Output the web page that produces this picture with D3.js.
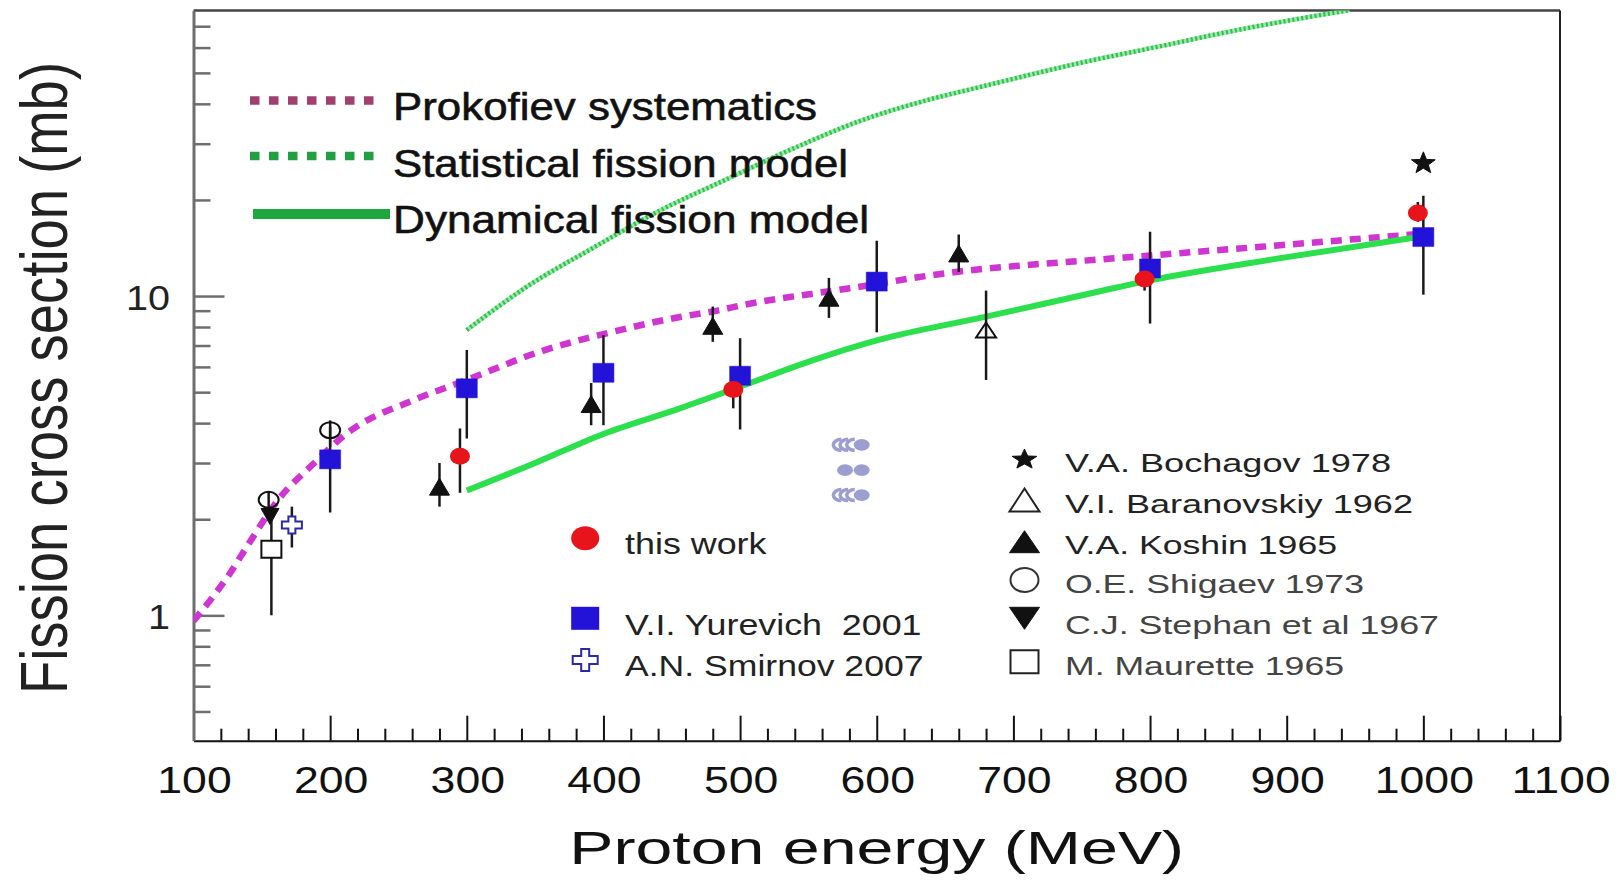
<!DOCTYPE html>
<html><head><meta charset="utf-8">
<script src="https://cdn.jsdelivr.net/npm/d3@7"></script>
<style>
html,body{margin:0;padding:0;background:#fff;}
svg{display:block;font-family:"Liberation Sans",Arial,Helvetica,sans-serif;}
</style>
</head><body>
<svg id="chart" width="1622" height="882"></svg>
<script>
// ---------------- DATA ----------------
const prokofievE = [100,114,127,139,163,188,212,261,300,356,400,456,480,505,565,600,627,665,700,761,800,893,1000];
const prokofievV = [0.96,1.14,1.36,1.64,2.33,2.99,3.71,4.72,5.46,6.75,7.6,8.6,8.95,9.43,10.35,10.9,11.4,12.0,12.4,13.0,13.4,14.4,15.7];

const statE = [300,344,393,441,490,539,588,637,676,748,806,864,946];
const statV = [7.83,10.7,14.2,18.5,23.2,29.0,35.4,41.1,45.2,53.6,60.4,68.1,78.6];

const dynE = [300,350,400,456,500,553,602,680,761,800,893,1000];
const dynV = [2.46,3.0,3.7,4.45,5.2,6.29,7.3,8.62,10.3,11.2,13.1,15.4];

const thisWorkE  = [295,495,796,996];
const thisWorkV  = [3.15,5.1,11.3,18.2];
const thisWorkLo = [2.42,4.45,10.4,17.1];
const thisWorkHi = [3.85,5.8,12.3,19.7];

const yurevichE  = [200,300,400,500,600,800,1000];
const yurevichV  = [3.08,5.14,5.75,5.63,11.1,12.2,15.3];
const yurevichLo = [2.10,3.58,3.94,3.82,7.7,8.2,10.1];
const yurevichHi = [3.9,6.78,7.55,7.38,14.9,15.9,20.6];

const smirnovE = [172], smirnovV = [1.92], smirnovLo = [1.63], smirnovHi = [2.19];
const bochagovE = [1000], bochagovV = [26.3];
const baranovskiyE = [680], baranovskiyV = [7.83], baranovskiyLo = [5.46], baranovskiyHi = [10.4];
const koshinE  = [280,391,480,565,660];
const koshinV  = [2.53,4.59,8.07,9.88,13.6];
const koshinLo = [2.19,3.94,7.19,8.54,11.9];
const koshinHi = [3.0,5.34,9.27,11.4,15.6];
const shigaevE = [155,200], shigaevV = [2.30,3.80], shigaevLo = [2.15,3.37], shigaevHi = [2.45,4.08];
const stephanE = [156], stephanV = [2.04];
const mauretteE = [157], mauretteV = [1.61], mauretteLo = [1.0], mauretteHi = [2.0];

// stray grey glyph in the middle of the plot
const glyphDotE = [589.0,576.8,589.0,589.0];
const glyphDotV = [3.42,2.85,2.85,2.38];
const glyphArcE = [571.9,576.8,581.7,571.9,576.8,581.7];
const glyphArcV = [3.42,3.42,3.42,2.38,2.38,2.38];

const xTicksMajor = [100,200,300,400,500,600,700,800,900,1000,1100];
const xTickLabels = ["100","200","300","400","500","600","700","800","900","1000","1100"];
const xTicksMinor = [120,140,160,180,220,240,260,280,320,340,360,380,420,440,460,480,520,540,560,580,620,640,660,680,720,740,760,780,820,840,860,880,920,940,960,980,1020,1040,1060,1080];
const yTicksMajor = [1,10];
const yTickLabels = ["1","10"];
const yTicksMinor = [0.5,0.6,0.7,0.8,0.9,2,3,4,5,6,7,8,9,20,30,40,50,60,70];

const curveLabels = ["Prokofiev systematics","Statistical fission model","Dynamical fission model"];
const leftLegendLabels = ["this work","V.I. Yurevich  2001","A.N. Smirnov 2007"];
const rightLegendLabels = ["V.A. Bochagov 1978","V.I. Baranovskiy 1962","V.A. Koshin 1965","O.E. Shigaev 1973","C.J. Stephan et al 1967","M. Maurette 1965"];
const xTitle = "Proton energy (MeV)";
const yTitle = "Fission cross section (mb)";

// ---------------- LAYOUT ----------------
const L = 193.5, R = 1560, T = 10.5, B = 740.7;
const svg = d3.select("#chart");
const x = d3.scaleLinear().domain([100,1100]).range([L,R]);
const y = d3.scaleLog().domain([0.405,78.4]).range([B,T]);

const RED = "#e8141b", BLUE = "#2312d8";

svg.append("defs").append("clipPath").attr("id","plotclip")
  .append("rect").attr("x",L).attr("y",T).attr("width",R-L).attr("height",B-T);

// shape paths
const tri = (w,h) => `M0,${-h/2}L${w/2},${h/2}L${-w/2},${h/2}Z`;
const triDown = (w,h) => `M0,${h/2}L${w/2},${-h/2}L${-w/2},${-h/2}Z`;
const star = (w,h) => {
  let p = "";
  for (let i=0;i<10;i++){
    const r = i%2===0 ? 1 : 0.42;
    const a = -Math.PI/2 + i*Math.PI/5;
    p += (i?"L":"M") + (Math.cos(a)*r*w/2).toFixed(2) + "," + (Math.sin(a)*r*h/2 + h*0.06).toFixed(2);
  }
  return p+"Z";
};
const cross = (w,h,t) => {
  const a=w/2,b=h/2,c=t/2;
  return `M${-c},${-b}H${c}V${-c}H${a}V${c}H${c}V${b}H${-c}V${c}H${-a}V${-c}H${-c}Z`;
};

// ---------------- FRAME & AXES ----------------
svg.append("line").attr("x1",L).attr("x2",R).attr("y1",T).attr("y2",T).attr("stroke","#444").attr("stroke-width",2.5);
svg.append("line").attr("x1",R).attr("x2",R).attr("y1",T).attr("y2",B).attr("stroke","#222").attr("stroke-width",2);

const gxMinor = svg.append("g").attr("transform",`translate(0,${B})`)
  .call(d3.axisBottom(x).tickValues(xTicksMinor).tickSize(-12).tickSizeOuter(0).tickFormat(""));
gxMinor.select(".domain").attr("stroke","#111").attr("stroke-width",2);
gxMinor.selectAll(".tick line").attr("stroke","#111").attr("stroke-width",2);
const gxMajor = svg.append("g").attr("transform",`translate(0,${B})`)
  .call(d3.axisBottom(x).tickValues(xTicksMajor).tickSize(-25).tickSizeOuter(0).tickFormat(""));
gxMajor.select(".domain").remove();
gxMajor.selectAll(".tick line").attr("stroke","#111").attr("stroke-width",2);

const gyMinor = svg.append("g").attr("transform",`translate(${L},0)`)
  .call(d3.axisLeft(y).tickValues(yTicksMinor).tickSize(-17).tickSizeOuter(0).tickFormat(""));
gyMinor.select(".domain").attr("stroke","#6e6e6e").attr("stroke-width",3);
gyMinor.selectAll(".tick line").attr("stroke","#6e6e6e").attr("stroke-width",2.5);
const gyMajor = svg.append("g").attr("transform",`translate(${L},0)`)
  .call(d3.axisLeft(y).tickValues(yTicksMajor).tickSize(-31).tickSizeOuter(0).tickFormat(""));
gyMajor.select(".domain").remove();
gyMajor.selectAll(".tick line").attr("stroke","#6e6e6e").attr("stroke-width",2.5);

// tick labels
svg.append("g").selectAll("text").data(xTicksMajor).join("text")
  .attr("x",d=>x(d)+1).attr("y",793).attr("text-anchor","middle")
  .attr("font-size",37).attr("fill","#111")
  .attr("textLength",(d,i)=>xTickLabels[i].length*24.8).attr("lengthAdjust","spacingAndGlyphs")
  .text((d,i)=>xTickLabels[i]);
svg.append("g").selectAll("text").data(yTicksMajor).join("text")
  .attr("x",170).attr("y",d=>y(d)+14).attr("text-anchor","end")
  .attr("font-size",35).attr("fill","#222")
  .attr("textLength",(d,i)=>yTickLabels[i].length*22).attr("lengthAdjust","spacingAndGlyphs")
  .text((d,i)=>yTickLabels[i]);

// axis titles
svg.append("text").attr("x",876.7).attr("y",863.5).attr("text-anchor","middle")
  .attr("font-size",46.5).attr("fill","#111")
  .attr("textLength",615).attr("lengthAdjust","spacingAndGlyphs").text(xTitle);
svg.append("text").attr("transform","translate(67,378) rotate(-90) scale(1,1.22)").attr("text-anchor","middle")
  .attr("font-size",54).attr("fill","#222")
  .attr("textLength",632).attr("lengthAdjust","spacingAndGlyphs").text(yTitle);

// ---------------- CURVES ----------------
const plot = svg.append("g").attr("clip-path","url(#plotclip)");
const line = d3.line().x(d=>x(d[0])).y(d=>y(d[1])).curve(d3.curveMonotoneX);
const statPts = statE.map((e,i)=>[e,statV[i]]);
plot.append("path").datum(statPts)
  .attr("d",line).attr("fill","none").attr("stroke","#9be8a8").attr("stroke-width",4.5);
plot.append("path").datum(statPts)
  .attr("d",line).attr("fill","none").attr("stroke","#2fc04e").attr("stroke-width",4.5)
  .attr("stroke-dasharray","2,2.5");
plot.append("path").datum(prokofievE.map((e,i)=>[e,prokofievV[i]]))
  .attr("d",line).attr("fill","none").attr("stroke","#cf35d0").attr("stroke-width",6.5)
  .attr("stroke-dasharray","11,8");
plot.append("path").datum(dynE.map((e,i)=>[e,dynV[i]]))
  .attr("d",line).attr("fill","none").attr("stroke","#2cdf4c").attr("stroke-width",6);

// ---------------- ERROR BARS ----------------
function errBars(E,lo,hi){
  plot.append("g").selectAll("line").data(E).join("line")
    .attr("x1",d=>x(d)).attr("x2",d=>x(d))
    .attr("y1",(d,i)=>y(lo[i])).attr("y2",(d,i)=>y(hi[i]))
    .attr("stroke","#1a1a1a").attr("stroke-width",2.5);
}
errBars(yurevichE,yurevichLo,yurevichHi);
errBars(thisWorkE,thisWorkLo,thisWorkHi);
errBars(koshinE,koshinLo,koshinHi);
errBars(baranovskiyE,baranovskiyLo,baranovskiyHi);
errBars(shigaevE,shigaevLo,shigaevHi);
errBars(mauretteE,mauretteLo,mauretteHi);
errBars(smirnovE,smirnovLo,smirnovHi);

// ---------------- MARKERS ----------------
function pathMarks(E,V,d,fill,stroke,sw){
  plot.append("g").selectAll("path").data(E).join("path")
    .attr("transform",(e,i)=>`translate(${x(e)},${y(V[i])})`)
    .attr("d",d).attr("fill",fill).attr("stroke",stroke).attr("stroke-width",sw);
}
plot.append("g").selectAll("path").data(glyphArcE).join("path")
  .attr("transform",(e,i)=>`translate(${x(e)},${y(glyphArcV[i])})`)
  .attr("d","M3,-5.5A8,5.5 0 0 0 3,5.5").attr("fill","none").attr("stroke","#9c9ed0").attr("stroke-width",3.5);
plot.append("g").selectAll("ellipse").data(glyphDotE).join("ellipse")
  .attr("cx",e=>x(e)).attr("cy",(e,i)=>y(glyphDotV[i])).attr("rx",8).attr("ry",5.8).attr("fill","#9c9ed0");

pathMarks(mauretteE,mauretteV,"M-10,-8.5H10V8.5H-10Z","#fff","#111",2);
pathMarks(stephanE,stephanV,triDown(18,16),"#111","#111",1);
pathMarks(shigaevE,shigaevV,"M-10,0A10,8 0 1 0 10,0A10,8 0 1 0 -10,0Z","none","#111",2);
pathMarks(smirnovE,smirnovV,cross(20,17,7),"#fff","#2b2aa0",2);
pathMarks(koshinE,koshinV,tri(20,17),"#111","#111",1);
pathMarks(baranovskiyE,baranovskiyV,tri(20,15),"none","#111",2);
pathMarks(yurevichE,yurevichV,"M-10.5,-9.5H10.5V9.5H-10.5Z",BLUE,BLUE,0.5);
plot.append("g").selectAll("ellipse").data(thisWorkE).join("ellipse")
  .attr("cx",e=>x(e)).attr("cy",(e,i)=>y(thisWorkV[i])).attr("rx",10).attr("ry",8.5).attr("fill",RED);
pathMarks(bochagovE,bochagovV,star(25,23),"#111","#111",1);

// ---------------- LEGEND: curves ----------------
const curveStyles = [
  {c:"#a0406e", dash:"9.5,9.5", w:8.5, x1:250, x2:377},
  {c:"#20a040", dash:"9.5,9.5", w:8.5, x1:250, x2:377},
  {c:"#1fa63f", dash:null, w:10, x1:253, x2:390}
];
const curveLineY = [100.5,156,214], curveTextY = [119.5,177,233], curveTextW = [424,455,476];
curveLabels.forEach((lab,i)=>{
  const s = curveStyles[i];
  svg.append("line").attr("x1",s.x1).attr("x2",s.x2).attr("y1",curveLineY[i]).attr("y2",curveLineY[i])
    .attr("stroke",s.c).attr("stroke-width",s.w).attr("stroke-dasharray",s.dash);
  svg.append("text").attr("x",393).attr("y",curveTextY[i]).attr("font-size",39).attr("fill","#111")
    .attr("stroke","#111").attr("stroke-width",0.6)
    .attr("textLength",curveTextW[i]).attr("lengthAdjust","spacingAndGlyphs").text(lab);
});

// ---------------- LEGEND: left experiments ----------------
const leftY = [538.3,618.3,660], leftTextY = [554,635,676], leftTextW = [141.5,296.5,298.5];
svg.append("ellipse").attr("cx",585.2).attr("cy",leftY[0]).attr("rx",14).attr("ry",12).attr("fill",RED);
svg.append("rect").attr("x",585.2-14).attr("y",leftY[1]-11.5).attr("width",28).attr("height",23).attr("fill",BLUE);
svg.append("path").attr("transform",`translate(585.2,${leftY[2]})`).attr("d",cross(25,22,8))
  .attr("fill","#fff").attr("stroke","#2b2aa0").attr("stroke-width",2);
leftLegendLabels.forEach((lab,i)=>{
  svg.append("text").attr("x",625).attr("y",leftTextY[i]).attr("font-size",29).attr("fill","#222")
    .style("white-space","pre")
    .attr("textLength",leftTextW[i]).attr("lengthAdjust","spacingAndGlyphs").text(lab);
});

// ---------------- LEGEND: right experiments ----------------
const rY = [458.3,500,541.7,580,618.3,661.7];
const rTextY = [471.7,512.5,553.5,593,633.5,675];
const rTextW = [326,348,272,299,374,279];
const rx = 1024.5;
const rShapes = [
  {d:star(26,21), f:"#111", s:"#111", w:1},
  {d:tri(30,23), f:"none", s:"#222", w:2},
  {d:tri(30,22), f:"#111", s:"#111", w:1},
  {d:"M-14,0A14,12 0 1 0 14,0A14,12 0 1 0 -14,0Z", f:"none", s:"#333", w:2},
  {d:triDown(30,22), f:"#111", s:"#111", w:1},
  {d:"M-14,-11.5H14V11.5H-14Z", f:"none", s:"#222", w:2}
];
rightLegendLabels.forEach((lab,i)=>{
  const s = rShapes[i];
  svg.append("path").attr("transform",`translate(${rx},${rY[i]})`).attr("d",s.d)
    .attr("fill",s.f).attr("stroke",s.s).attr("stroke-width",s.w);
  svg.append("text").attr("x",1065).attr("y",rTextY[i]).attr("font-size",26).attr("fill",i>=3?"#444":"#222")
    .attr("textLength",rTextW[i]).attr("lengthAdjust","spacingAndGlyphs").text(lab);
});
</script>
</body></html>
